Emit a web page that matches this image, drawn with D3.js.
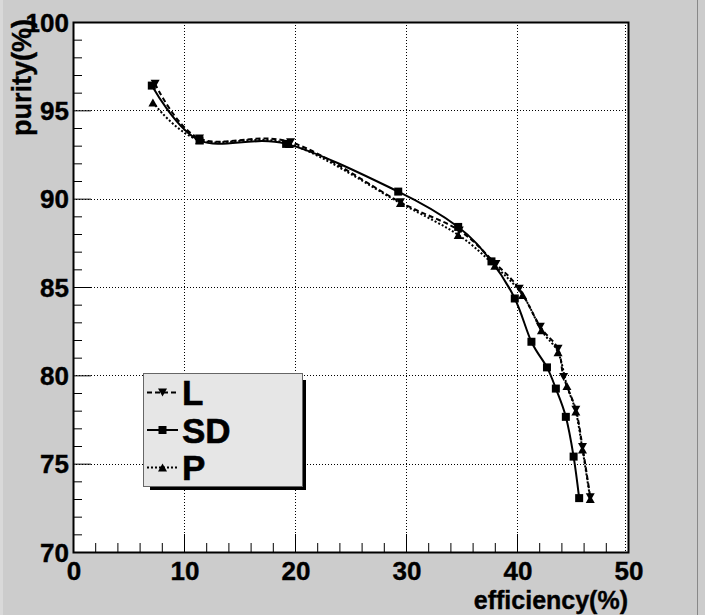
<!DOCTYPE html>
<html>
<head>
<meta charset="utf-8">
<script src="https://cdn.jsdelivr.net/npm/d3@7"></script>
<style>
  body { margin: 0; background: #cccccc; }
  svg { display: block; }
  text { font-family: "Liberation Sans", Arial, Helvetica, sans-serif; font-weight: bold; }
</style>
</head>
<body>
<svg id="chart" width="705" height="615"></svg>
<script>
// curve data: [efficiency, purity]
const seriesL = [[7.4,96.5],[11.4,93.4],[19.6,93.2],[29.5,89.8],[34.8,88.2],[38.1,86.3],[40.2,84.9],[42.1,82.75],[43.7,81.5],[44.2,79.9],[45.3,78.05],[45.9,75.95],[46.6,73.1]];
const seriesSD = [[7.1,96.4],[11.4,93.3],[19.2,93.1],[29.3,90.4],[34.7,88.4],[37.7,86.45],[39.8,84.35],[41.3,81.9],[42.7,80.45],[43.5,79.25],[44.4,77.65],[45.1,75.4],[45.6,73.05]];
const seriesP = [[7.2,95.45],[11.4,93.3],[19.5,93.1],[29.5,89.75],[34.7,87.95],[38.0,86.2],[40.5,84.55],[42.2,82.55],[43.7,81.3],[44.5,79.4],[45.3,77.95],[45.9,75.8],[46.6,73.0]];
const legendNames = ['L', 'SD', 'P'];
const xTicks = [0, 10, 20, 30, 40, 50];
const yTicks = [70, 75, 80, 85, 90, 95, 100];

const svg = d3.select('#chart');
const W = 705, H = 615;
const fLeft = 73, fRight = 628, fTop = 22, fBottom = 552;

// canvas edges
svg.append('rect').attr('width', W).attr('height', H).attr('fill', '#cccccc');
svg.append('path').attr('d', `M1.5,${H}V0`).attr('fill', 'none').attr('stroke', '#d9d9d9').attr('stroke-width', 3);
svg.append('path').attr('d', `M${W - 7.5},0V${H}`).attr('fill', 'none').attr('stroke', '#888').attr('stroke-width', 1);

const x = d3.scaleLinear().domain([0, 50]).range([fLeft, fRight]);
const y = d3.scaleLinear().domain([70, 100]).range([fBottom, fTop]);

svg.append('rect')
  .attr('x', fLeft).attr('y', fTop)
  .attr('width', fRight - fLeft).attr('height', fBottom - fTop)
  .attr('fill', 'white');

// grid
const grid = svg.append('g').attr('stroke', 'black').attr('stroke-width', 1).attr('stroke-dasharray', '1,2');
grid.selectAll('.gx').data(xTicks.slice(1)).join('line')
  .attr('x1', d => Math.min(Math.round(x(d)), fRight - 3) + 0.5)
  .attr('x2', d => Math.min(Math.round(x(d)), fRight - 3) + 0.5)
  .attr('y1', fTop).attr('y2', fBottom);
grid.selectAll('.gy').data(yTicks.slice(1, -1)).join('line')
  .attr('y1', d => Math.round(y(d)) + 0.5).attr('y2', d => Math.round(y(d)) + 0.5)
  .attr('x1', fLeft).attr('x2', fRight);

// axes with ROOT style ticks
const xAxis = svg.append('g').attr('transform', `translate(0,${fBottom})`)
  .call(d3.axisTop(x).ticks(25).tickSize(9).tickFormat(''));
xAxis.selectAll('.tick line').attr('y2', d => xTicks.includes(d) ? -18 : -9);
xAxis.select('.domain').remove();

const yAxis = svg.append('g').attr('transform', `translate(${fLeft},0)`)
  .call(d3.axisRight(y).ticks(30).tickSize(9).tickFormat(''));
yAxis.selectAll('.tick line').attr('x2', d => yTicks.includes(d) ? 18 : 9);
yAxis.select('.domain').remove();

svg.append('rect')
  .attr('x', fLeft + 0.5).attr('y', fTop + 0.5)
  .attr('width', fRight - fLeft).attr('height', fBottom - fTop)
  .attr('fill', 'none').attr('stroke', 'black').attr('stroke-width', 2);

// tick labels
svg.append('g').selectAll('text').data(xTicks).join('text')
  .attr('x', d => x(d) + 1).attr('y', fBottom + 28)
  .attr('text-anchor', 'middle').attr('font-size', 26)
  .attr('stroke', 'black').attr('stroke-width', 0.4)
  .text(d => d);
svg.append('g').selectAll('text').data(yTicks).join('text')
  .attr('x', fLeft - 4).attr('y', d => y(d) + 9.5)
  .attr('text-anchor', 'end').attr('font-size', 26)
  .attr('stroke', 'black').attr('stroke-width', 0.4)
  .text(d => d);

svg.append('text')
  .attr('x', fRight).attr('y', 609)
  .attr('text-anchor', 'end').attr('font-size', 25)
  .attr('stroke', 'black').attr('stroke-width', 0.4)
  .text('efficiency(%)');
svg.append('text')
  .attr('transform', `translate(31,19) rotate(-90)`)
  .attr('text-anchor', 'end').attr('font-size', 27)
  .attr('stroke', 'black').attr('stroke-width', 0.4)
  .text('purity(%)');

// curves
const line = d3.line().x(d => x(d[0])).y(d => y(d[1])).curve(d3.curveCatmullRom.alpha(0));
const styles = [
  { data: seriesL, dash: '5,3', marker: 'down' },
  { data: seriesSD, dash: null, marker: 'square' },
  { data: seriesP, dash: '2,2', marker: 'up' }
];

function drawMarker(g, kind, cx, cy) {
  if (kind === 'square') {
    g.append('rect').attr('x', cx - 4).attr('y', cy - 4).attr('width', 8).attr('height', 8).attr('fill', 'black');
  } else if (kind === 'down') {
    g.append('path').attr('d', `M${cx - 4.5},${cy - 4}L${cx + 4.5},${cy - 4}L${cx},${cy + 4}Z`).attr('fill', 'black');
  } else {
    g.append('path').attr('d', `M${cx - 4.5},${cy + 4}L${cx + 4.5},${cy + 4}L${cx},${cy - 4}Z`).attr('fill', 'black');
  }
}

styles.forEach(s => {
  svg.append('path').datum(s.data)
    .attr('d', line)
    .attr('fill', 'none').attr('stroke', 'black').attr('stroke-width', 2)
    .attr('stroke-dasharray', s.dash);
  const g = svg.append('g');
  s.data.forEach(d => drawMarker(g, s.marker, x(d[0]), y(d[1])));
});

// legend
const lx = 143, ly = 373, lw = 159, lh = 113;
svg.append('rect').attr('x', lx + 7).attr('y', ly + 7).attr('width', lw - 3).attr('height', lh - 3).attr('fill', 'black');
svg.append('rect').attr('x', lx + 0.5).attr('y', ly + 0.5).attr('width', lw).attr('height', lh)
  .attr('fill', '#e6e6e6').attr('stroke', '#666').attr('stroke-width', 1);
legendNames.forEach((name, i) => {
  const cy = ly + 19.5 + i * 37.5;
  const s = styles[i];
  svg.append('line').attr('x1', lx + 4).attr('x2', lx + 35).attr('y1', cy).attr('y2', cy)
    .attr('stroke', 'black').attr('stroke-width', 2).attr('stroke-dasharray', s.dash);
  drawMarker(svg, s.marker, lx + 19.5, cy);
  svg.append('text').attr('x', lx + 39).attr('y', cy + 12.5)
    .attr('font-size', 35).attr('stroke', 'black').attr('stroke-width', 0.6)
    .text(name);
});
</script>
</body>
</html>
